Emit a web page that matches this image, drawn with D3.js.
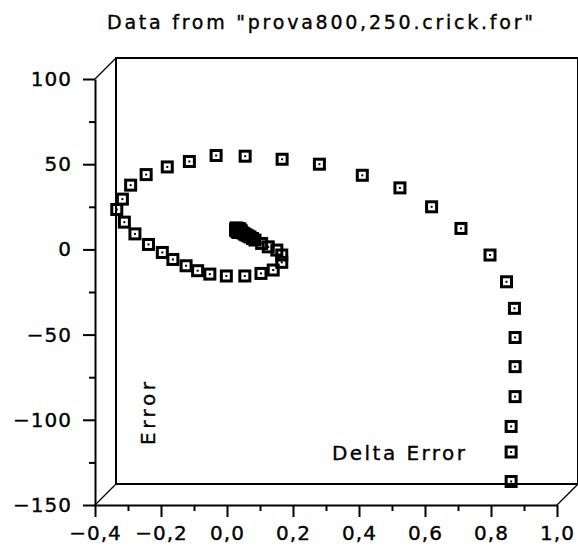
<!DOCTYPE html>
<html lang="en">
<head>
    <meta charset="UTF-8">
    <title>Data from "prova800,250.crick.for"</title>
    <script src="https://d3js.org/d3.v7.min.js"></script>
    <style>
        body {
            margin: 0;
            background: #fff;
        }
        svg {
            display: block;
            font-family: "DejaVu Sans", sans-serif;
        }
        svg text {
            fill: #000;
            stroke: #000;
            stroke-width: 0.35px;
        }
        .frame line, .frame rect {
            fill: none;
            stroke: #000;
            stroke-width: 2px;
        }
        .frame .depth {
            stroke-width: 1.3px;
        }
        .axis path, .axis line {
            stroke: #000;
            stroke-width: 2px;
        }
        .axis text {
            font-size: 20px;
            letter-spacing: 1px;
        }
        .point rect.box {
            fill: none;
            stroke: #000;
            stroke-width: 3px;
        }
    </style>
</head>
<body>
    <svg id="chart" width="578" height="559"></svg>

    <script>
        // Values (x = Delta Error, y = Error)
        const titleText = 'Data from "prova800,250.crick.for"';
        const xLabel = "Delta Error";
        const yLabel = "Error";

        const deltaError = [0.861, 0.861, 0.861, 0.873, 0.873, 0.873, 0.871, 0.847, 0.797, 0.709,
            0.620, 0.524, 0.410, 0.280, 0.167, 0.055, -0.033, -0.114, -0.181, -0.245,
            -0.292, -0.317, -0.334, -0.311, -0.279, -0.238, -0.196, -0.164, -0.124, -0.089,
            -0.052, -0.002, 0.054, 0.103, 0.140, 0.166, 0.166, 0.151, 0.125, 0.105,
            0.0848, 0.0773, 0.0697, 0.0636, 0.0576, 0.0530, 0.0485, 0.0439, 0.0394, 0.0364,
            0.0333, 0.0303, 0.0288, 0.0273, 0.0258, 0.0273, 0.0318, 0.0348, 0.0394, 0.0424,
            0.0394, 0.0348, 0.0318, 0.0303, 0.0318, 0.0348, 0.0370, 0.0358, 0.0333];
        const error = [-136.2, -118.9, -103.9, -86.4, -68.8, -51.7, -34.6, -19.0, -3.3, 12.3,
            25.0, 36.1, 43.5, 50.0, 52.9, 54.7, 55.1, 51.6, 48.4, 43.9,
            37.7, 29.5, 23.4, 16.0, 9.1, 2.9, -1.8, -5.9, -9.6, -12.5,
            -14.5, -15.6, -15.6, -14.1, -12.1, -7.6, -3.3, -0.4, 1.5, 3.5,
            5.5, 6.4, 7.3, 7.9, 8.5, 9.0, 9.6, 10.2, 10.8, 11.4,
            11.7, 12.0, 12.3, 12.6, 11.7, 10.8, 10.2, 9.9, 10.2, 11.1,
            12.0, 12.3, 12.0, 11.4, 10.8, 10.7, 11.1, 11.5, 11.4];

        const xTicks = [-0.4, -0.2, 0.0, 0.2, 0.4, 0.6, 0.8, 1.0];
        const xMinorTicks = [-0.3, -0.1, 0.1, 0.3, 0.5, 0.7, 0.9];
        const yTicks = [-150, -100, -50, 0, 50, 100];
        const yMinorTicks = [-125, -75, -25, 25, 75];

        const svg = d3.select("#chart");

        // axis frame and the shifted "front" box
        const plot = { left: 95, right: 557, top: 79, bottom: 505 };
        const depth = { dx: 21, dy: -21 };

        const x = d3.scaleLinear().domain([-0.4, 1.0]).range([plot.left, plot.right]);
        const y = d3.scaleLinear().domain([-150, 100]).range([plot.bottom, plot.top]);

        // 0,2 style labels with a long minus
        const fmtX = d => d3.format(".1f")(d).replace(".", ",").replace("-", "\u2212");
        const fmtY = d => String(d).replace("-", "\u2212");

        // title
        svg.append("text")
            .attr("x", 320)
            .attr("y", 29)
            .attr("text-anchor", "middle")
            .attr("font-size", 19)
            .attr("textLength", 426)
            .attr("lengthAdjust", "spacing")
            .text(titleText);

        // box
        const frame = svg.append("g").attr("class", "frame");
        frame.append("rect")
            .attr("x", plot.left + depth.dx)
            .attr("y", plot.top + depth.dy)
            .attr("width", plot.right - plot.left)
            .attr("height", plot.bottom - plot.top);
        [[plot.left, plot.top], [plot.left, plot.bottom], [plot.right, plot.bottom]].forEach(([cx, cy]) => {
            frame.append("line")
                .attr("class", "depth")
                .attr("x1", cx).attr("y1", cy)
                .attr("x2", cx + depth.dx).attr("y2", cy + depth.dy);
        });

        // y axis
        svg.append("g")
            .attr("class", "axis")
            .attr("transform", `translate(${plot.left},0)`)
            .call(d3.axisLeft(y).tickValues(yTicks).tickFormat(fmtY)
                .tickSize(12).tickSizeOuter(0).tickPadding(11));
        svg.append("g")
            .attr("class", "axis")
            .attr("transform", `translate(${plot.left},0)`)
            .call(d3.axisLeft(y).tickValues(yMinorTicks).tickFormat("")
                .tickSize(6).tickSizeOuter(0))
            .select(".domain").remove();

        // x axis
        svg.append("g")
            .attr("class", "axis")
            .attr("transform", `translate(0,${plot.bottom})`)
            .call(d3.axisBottom(x).tickValues(xTicks).tickFormat(fmtX)
                .tickSize(12).tickSizeOuter(0).tickPadding(9));
        svg.append("g")
            .attr("class", "axis")
            .attr("transform", `translate(0,${plot.bottom})`)
            .call(d3.axisBottom(x).tickValues(xMinorTicks).tickFormat("")
                .tickSize(6).tickSizeOuter(0))
            .select(".domain").remove();

        svg.selectAll(".axis").attr("font-family", null).attr("font-size", null);

        // axis titles sit inside the box
        svg.append("text")
            .attr("x", 398.5)
            .attr("y", 460)
            .attr("text-anchor", "middle")
            .attr("font-size", 20)
            .attr("textLength", 133)
            .attr("lengthAdjust", "spacing")
            .text(xLabel);

        svg.append("text")
            .attr("transform", "translate(155,413.5) rotate(-90)")
            .attr("text-anchor", "middle")
            .attr("font-size", 20)
            .attr("textLength", 63)
            .attr("lengthAdjust", "spacing")
            .text(yLabel);

        // open square markers
        const points = d3.range(deltaError.length).map(i => ({ x: deltaError[i], y: error[i] }));

        const pts = svg.selectAll(".point")
            .data(points)
            .enter().append("g")
            .attr("class", "point")
            .attr("transform", d => `translate(${x(d.x)},${y(d.y)})`);

        pts.append("rect")
            .attr("class", "box")
            .attr("x", -5).attr("y", -5)
            .attr("width", 10).attr("height", 10);

        pts.append("rect")
            .attr("x", -1).attr("y", -1)
            .attr("width", 2).attr("height", 2)
            .attr("fill", "#000");
    </script>
</body>
</html>
